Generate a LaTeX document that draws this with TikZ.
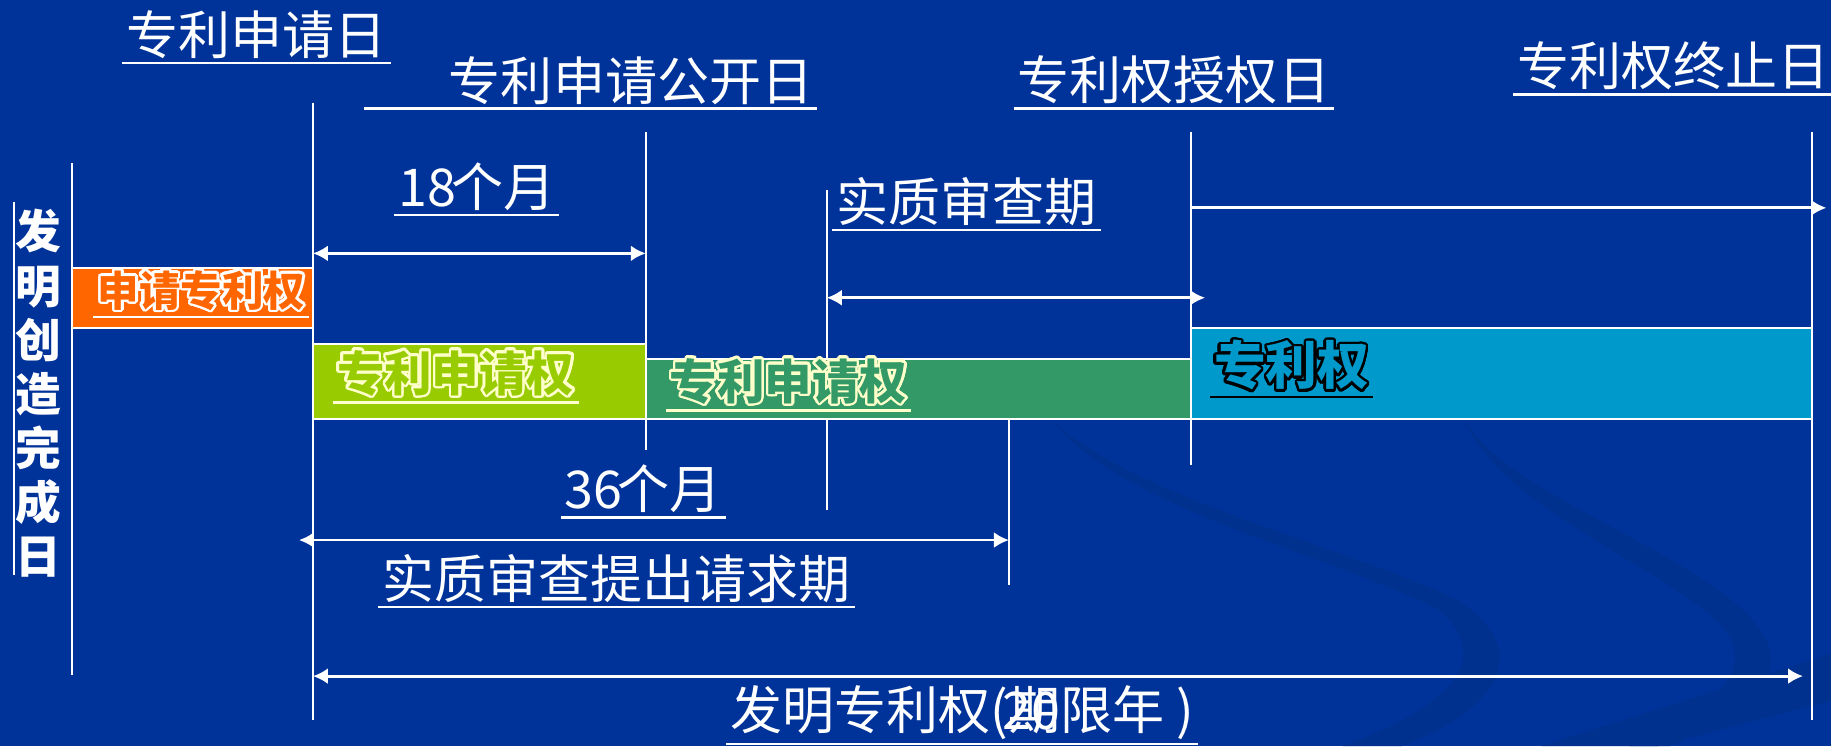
\documentclass[tikz,border=0pt]{standalone}
\usepackage{fontspec}
\setmainfont{Noto Sans CJK SC}
\usepackage{contour}
\usetikzlibrary{arrows.meta}
\contourlength{0.7pt}
\contournumber{24}

\definecolor{bgblue}{HTML}{003399}
\definecolor{swoosh}{HTML}{00318E}
\definecolor{barorange}{HTML}{FF6600}
\definecolor{barlime}{HTML}{99CC00}
\definecolor{bargreen}{HTML}{339966}
\definecolor{barcyan}{HTML}{0099CC}
\definecolor{paleyellow}{HTML}{FFFFCC}

\tikzset{
  vline/.style={white, line width=0.6pt},
  span/.style={white, line width=0.8pt, {Latex[length=1.5mm,width=1.6mm]}-{Latex[length=1.5mm,width=1.6mm]}},
  onward/.style={white, line width=0.8pt, -{Latex[length=1.5mm,width=1.6mm]}},
  bar/.style={draw=white, line width=0.6pt},
  lbl/.style={anchor=south west, inner xsep=1pt, inner ysep=0pt, text=white,
    font=\fontsize{14.8}{16}\selectfont},
  tag/.style={anchor=south west, inner xsep=1pt, inner ysep=0pt},
  uline/.style={line width=0.7pt},
}

\begin{document}
\begin{tikzpicture}[x=0.011677cm, y=-0.011677cm]
  \useasboundingbox (0,0) rectangle (1568,639);
  \fill[bgblue] (0,0) rectangle (1568,639);
  % faint background waves
  \fill[swoosh] (903,362) .. controls (980,430) and (1160,470) .. (1250,515)
    .. controls (1310,555) and (1290,605) .. (1200,639) -- (1150,639)
    .. controls (1255,600) and (1275,560) .. (1232,522)
    .. controls (1140,475) and (960,435) .. (903,362) -- cycle;
  \fill[swoosh] (1254,360) .. controls (1290,420) and (1420,460) .. (1490,520)
    .. controls (1545,570) and (1510,605) .. (1430,639) -- (1395,639)
    .. controls (1490,600) and (1505,560) .. (1465,527)
    .. controls (1400,475) and (1285,430) .. (1254,360) -- cycle;
  \fill[swoosh] (1320,639) -- (1568,560) -- (1568,600) -- (1420,639) -- cycle;

  % time lines
  \foreach \nm/\x/\ya/\yb in {side/12/173/492, done/62/140/578, file/268/88/617,
      publ/553/113/385, exam/708/163/437, ask/864/360/501, grant/1020/113/398,
      stop/1552/113/617}
  {
    \coordinate (\nm-t) at (\x,\ya);
    \coordinate (\nm-b) at (\x,\yb);
    \draw[vline] (\nm-t) -- (\nm-b);
  }

  % rights bars
  \filldraw[bar, fill=barorange] (62,229.6) rectangle (268,280.6);
  \filldraw[bar, fill=barlime] (268,294.6) rectangle (553,358.8);
  \filldraw[bar, fill=bargreen] (553,307.5) rectangle (1020,358.8);
  \filldraw[bar, fill=barcyan] (1020,281) rectangle (1552,358.8);

  % periods
  \coordinate (m18a) at (268,217);
  \coordinate (m18b) at (553,217);
  \coordinate (exa) at (708,255);
  \coordinate (exb) at (1032,255);
  \coordinate (pra) at (1020,178);
  \coordinate (prb) at (1564,178);
  \coordinate (m36a) at (256,462.5);
  \coordinate (m36b) at (864,462.5);
  \coordinate (lfa) at (268,579);
  \coordinate (lfb) at (1544,579);
  \draw[span] (m18a) -- (m18b);
  \draw[span] (exa) -- (exb);
  \draw[onward] (pra) -- (prb);
  \draw[span] (m36a) -- (m36b);
  \draw[span] (lfa) -- (lfb);

  % labels
  \node[lbl] (lbFile) at (104.5,51) {专利申请日};
  \node[lbl] (lbPubl) at (311.6,90) {\hspace{23pt}专利申请公开日\hspace{2pt}};
  \node[lbl] (lbGrant) at (868,90) {专利权授权日};
  \node[lbl] (lbTerm) at (1296,77.8) {专利权终止日};
  \node[lbl] (lb18) at (337.7,181) {18\kern-1.5pt 个月};
  \node[lbl] (lbExam) at (712.6,194) {实质审查期};
  \node[lbl] (lb36) at (480,440) {36\kern-1.5pt 个月};
  \node[lbl] (lbAsk) at (324,517) {实质审查提出请求期};
  \node[lbl] (lbLife) at (622,634) {发明专利权(期\llap{20}限年 )};
  \foreach \n in {lbFile,lbPubl,lbGrant,lbTerm,lb18,lbExam,lb36,lbAsk,lbLife}
    \draw[white, uline] ([yshift=-1pt]\n.south west) -- ([yshift=-1pt]\n.south east);

  \node[text=white, font=\bfseries\fontsize{13}{15.4}\selectfont, align=center,
    inner sep=0pt] (lbDone) at (33,337) {发\\明\\创\\造\\完\\成\\日};

  % bar tags
  \node[tag, text=barorange, font=\bfseries\fontsize{11.8}{14}\selectfont]
    (tgApply) at (80,268.6) {\contour{white}{申请专利权}};
  \node[tag, text=barlime, font=\bfseries\fontsize{13.5}{15}\selectfont]
    (tgPend) at (285,341.8) {\contour{paleyellow}{专利申请权}};
  \node[tag, text=bargreen, font=\bfseries\fontsize{13.5}{15}\selectfont]
    (tgPendB) at (570,348.7) {\contour{paleyellow}{专利申请权}};
  \node[tag, text=barcyan, font=\bfseries\fontsize{14.7}{16}\selectfont]
    (tgPatent) at (1036,337) {\contour{black}{专利权}};
  \draw[white, uline] ([yshift=-1pt]tgApply.south west) -- ([yshift=-1pt]tgApply.south east);
  \draw[paleyellow, uline] ([yshift=-1pt]tgPend.south west) -- ([yshift=-1pt]tgPend.south east);
  \draw[paleyellow, uline] ([yshift=-1pt]tgPendB.south west) -- ([yshift=-1pt]tgPendB.south east);
  \draw[black, uline] ([yshift=-1pt]tgPatent.south west) -- ([yshift=-1pt]tgPatent.south east);
\end{tikzpicture}
\end{document}
